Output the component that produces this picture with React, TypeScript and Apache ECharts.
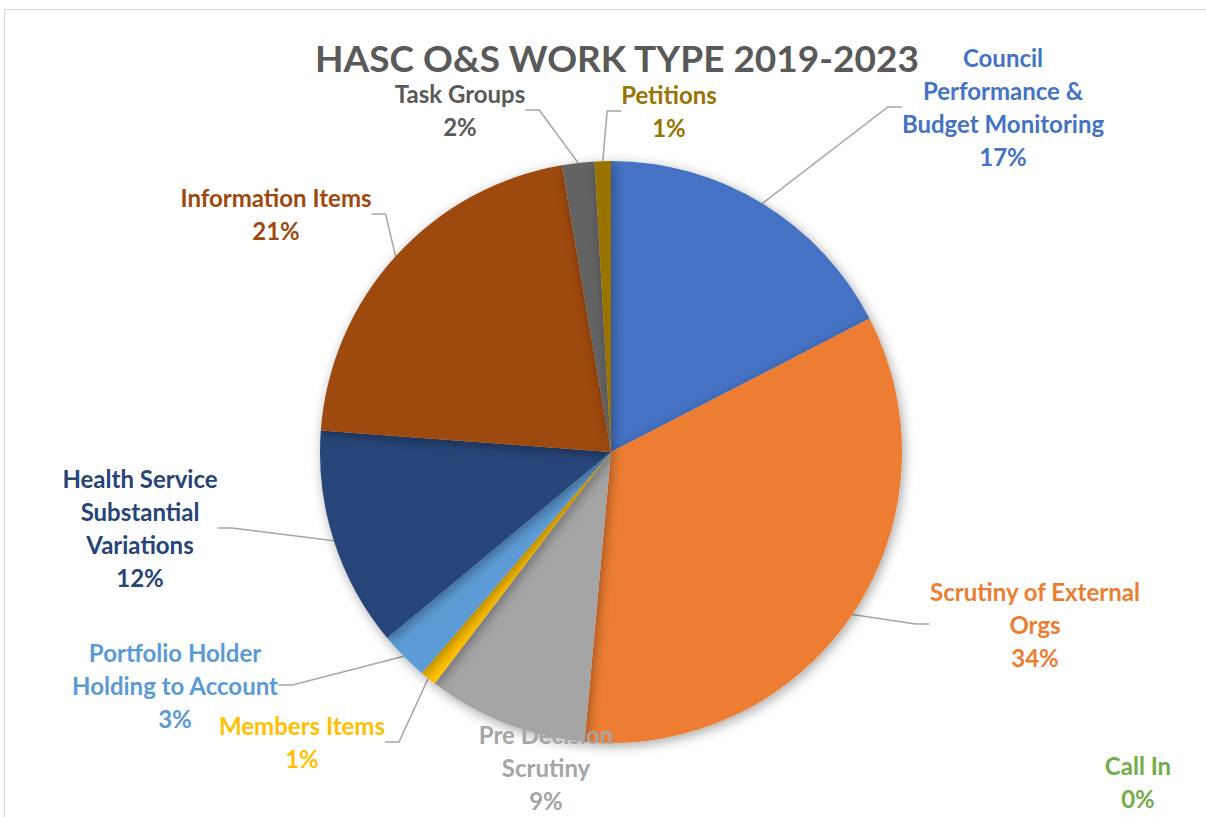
import React, { useEffect, useRef } from "react";
import * as echarts from "echarts";

const categories = [
  "Council Performance & Budget Monitoring",
  "Scrutiny of External Orgs",
  "Pre Decision Scrutiny",
  "Members Items",
  "Portfolio Holder Holding to Account",
  "Health Service Substantial Variations",
  "Information Items",
  "Task Groups",
  "Petitions",
  "Call In",
];
const labelTexts = [
  "Council\nPerformance &\nBudget Monitoring",
  "Scrutiny of External\nOrgs",
  "Pre Decision\nScrutiny",
  "Members Items",
  "Portfolio Holder\nHolding to Account",
  "Health Service\nSubstantial\nVariations",
  "Information Items",
  "Task Groups",
  "Petitions",
  "Call In",
];
const values = [17.4, 34.0, 8.9, 0.9, 2.7, 12.2, 21.1, 1.8, 0.9, 0];
const colors = [
  "#4472C4",
  "#ED7D31",
  "#A5A5A5",
  "#FFC000",
  "#5B9BD5",
  "#264478",
  "#9E480E",
  "#636363",
  "#997300",
  "#70AD47",
];
const labelColors = [
  "#4472C4",
  "#ED7D31",
  "#A5A5A5",
  "#FFC000",
  "#5B9BD5",
  "#264478",
  "#9E480E",
  "#595959",
  "#997300",
  "#70AD47",
];
const labelPos = [
  [1003, 107],
  [1035, 624],
  [546, 767],
  [302, 742],
  [175, 685],
  [140, 528],
  [276, 214],
  [460, 110],
  [669, 111],
  [1138, 782],
];

const FONT = "Lato, 'Open Sans', sans-serif";

export default function App() {
  const ref = useRef<HTMLDivElement>(null);
  useEffect(() => {
    document.body.style.margin = "0";
    const chart = echarts.init(ref.current!, null, { renderer: "svg" });
    chart.setOption({
      animation: false,
      backgroundColor: "#ffffff",
      title: {
        text: "HASC O&S WORK TYPE 2019-2023",
        left: 612,
        top: 52,
        textAlign: "center",
        textVerticalAlign: "middle",
        textStyle: {
          fontFamily: FONT,
          fontWeight: "bold",
          fontSize: 37,
          lineHeight: 28,
          color: "#595959",
        },
      },
      graphic: [
        {
          type: "rect",
          shape: { x: 4.5, y: 9.5, width: 1220, height: 840 },
          style: { fill: "none", stroke: "#d9d9d9", lineWidth: 1 },
          silent: true,
          z: -1,
        },
      ],
      series: [
        {
          type: "pie",
          center: [611, 452],
          radius: 291,
          startAngle: 90,
          clockwise: true,
          avoidLabelOverlap: false,
          itemStyle: {
            shadowBlur: 12,
            shadowColor: "rgba(0,0,0,0.35)",
            shadowOffsetX: 2,
            shadowOffsetY: 3,
          },
          label: {
            show: true,
            position: "outside",
            fontFamily: FONT,
            fontWeight: "bold",
            fontSize: 24,
            lineHeight: 33,
            align: "center",
            formatter: (p: any) =>
              labelTexts[p.dataIndex] + "\n" + Math.round(p.percent) + "%",
          },
          labelLine: {
            show: true,
            length: 20,
            length2: 14,
            lineStyle: { color: "#a6a6a6", width: 1.5 },
          },
          labelLayout: (params: any) => {
            const pos = labelPos[params.dataIndex];
            return {
              x: pos[0],
              y: pos[1],
              align: "center",
              verticalAlign: "middle",
            };
          },
          data: categories.map((name, i) => ({
            name,
            value: values[i],
            itemStyle: { color: colors[i] },
            label: { color: labelColors[i] },
            labelLine: { show: i !== 9 },
          })),
        },
      ],
    });
    return () => chart.dispose();
  }, []);
  return <div ref={ref} style={{ width: 1206, height: 817 }} />;
}
